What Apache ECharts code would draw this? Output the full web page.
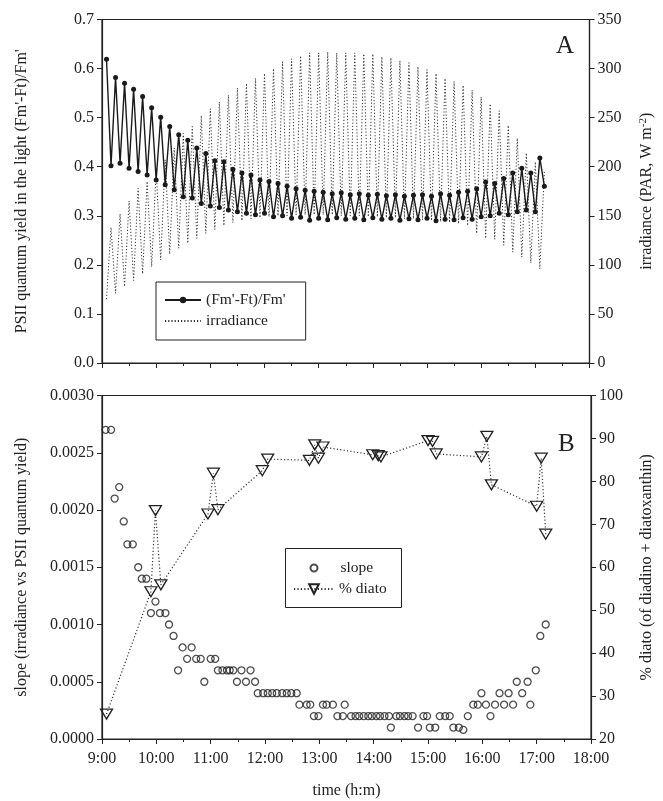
<!DOCTYPE html>
<html><head><meta charset="utf-8">
<script src="https://cdn.jsdelivr.net/npm/echarts@6/dist/echarts.min.js"></script>
<style>html,body{margin:0;padding:0;background:#fff}#c{width:663px;height:801px}</style>
</head><body><div id="c"></div>
<script>
// ---- Panel A: sampled every 5 min (alternating low / high light) ----
const sampleTimes = [
 "9:05","9:10","9:15","9:20","9:25","9:30","9:35","9:40","9:45","9:50","9:55","10:00",
 "10:05","10:10","10:15","10:20","10:25","10:30","10:35","10:40","10:45","10:50","10:55","11:00",
 "11:05","11:10","11:15","11:20","11:25","11:30","11:35","11:40","11:45","11:50","11:55","12:00",
 "12:05","12:10","12:15","12:20","12:25","12:30","12:35","12:40","12:45","12:50","12:55","13:00",
 "13:05","13:10","13:15","13:20","13:25","13:30","13:35","13:40","13:45","13:50","13:55","14:00",
 "14:05","14:10","14:15","14:20","14:25","14:30","14:35","14:40","14:45","14:50","14:55","15:00",
 "15:05","15:10","15:15","15:20","15:25","15:30","15:35","15:40","15:45","15:50","15:55","16:00",
 "16:05","16:10","16:15","16:20","16:25","16:30","16:35","16:40","16:45","16:50","16:55","17:00",
 "17:05","17:10"];
const irradiance = [
 65,138, 71,152, 78,165, 84,178, 91,185, 98,197, 105,207, 111,219, 117,234, 122,241,
 127,252, 132,259, 136,266, 140,273, 143,280, 145,285, 147,290, 148,295, 149,300, 150,307,
 150,310, 151,313, 151,316, 151,316, 151,317, 151,316, 150,316, 150,316, 150,315, 149,315,
 149,312, 148,311, 148,308, 147,306, 147,302, 146,299, 145,295, 144,290, 143,287, 142,283,
 140,278, 132,271, 127,264, 126,257, 120,242, 113,229, 108,214, 102,205, 96,195];
const quantumYield = [
 0.619,0.402, 0.582,0.407, 0.570,0.397, 0.558,0.390, 0.543,0.383, 0.520,0.373, 0.501,0.363, 0.482,0.353, 0.465,0.339, 0.454,0.336,
 0.438,0.325, 0.427,0.320, 0.412,0.317, 0.410,0.312, 0.395,0.308, 0.387,0.305, 0.383,0.302, 0.373,0.305, 0.370,0.298, 0.366,0.300,
 0.360,0.295, 0.355,0.297, 0.352,0.291, 0.350,0.295, 0.348,0.292, 0.345,0.296, 0.347,0.293, 0.343,0.295, 0.345,0.292, 0.342,0.296,
 0.344,0.293, 0.341,0.295, 0.343,0.291, 0.340,0.294, 0.342,0.292, 0.343,0.295, 0.340,0.290, 0.345,0.293, 0.342,0.292, 0.348,0.296,
 0.350,0.293, 0.355,0.298, 0.369,0.300, 0.366,0.305, 0.376,0.302, 0.387,0.308, 0.397,0.312, 0.387,0.308, 0.418,0.360];

// ---- Panel B ----
const slopeTimes = [
 "9:04","9:10","9:14","9:19","9:24","9:28","9:34","9:40","9:44","9:49","9:54","9:59",
 "10:04","10:10","10:14","10:19","10:24","10:29","10:34","10:39","10:44","10:49","10:53",
 "11:00","11:05","11:08","11:13","11:18","11:21","11:25","11:29","11:34","11:39","11:44","11:49",
 "11:52","11:58","12:03","12:08","12:13","12:19","12:24","12:29","12:35","12:38","12:46","12:50","12:54","12:59",
 "13:04","13:08","13:15","13:20","13:26","13:28","13:35","13:40","13:44","13:49","13:54","13:58",
 "14:03","14:07","14:12","14:17","14:19","14:25","14:29","14:34","14:38","14:43","14:49","14:55","14:59",
 "15:02","15:08","15:13","15:19","15:24","15:28","15:34","15:39","15:44","15:50","15:55","15:59",
 "16:04","16:09","16:14","16:19","16:24","16:29","16:34","16:38","16:44","16:50","16:53","16:59",
 "17:04","17:10"];
const slopeValues = [
 0.0027,0.0027,0.0021,0.0022,0.0019,0.0017,0.0017,0.0015,0.0014,0.0014,0.0011,0.0012,
 0.0011,0.0011,0.0010,0.0009,0.0006,0.0008,0.0007,0.0008,0.0007,0.0007,0.0005,
 0.0007,0.0007,0.0006,0.0006,0.0006,0.0006,0.0006,0.0005,0.0006,0.0005,0.0006,0.0005,
 0.0004,0.0004,0.0004,0.0004,0.0004,0.0004,0.0004,0.0004,0.0004,0.0003,0.0003,0.0003,0.0002,0.0002,
 0.0003,0.0003,0.0003,0.0002,0.0002,0.0003,0.0002,0.0002,0.0002,0.0002,0.0002,0.0002,
 0.0002,0.0002,0.0002,0.0002,0.0001,0.0002,0.0002,0.0002,0.0002,0.0002,0.0001,0.0002,0.0002,
 0.0001,0.0001,0.0002,0.0002,0.0002,0.0001,0.0001,0.00008,0.0002,0.0003,0.0003,0.0004,
 0.0003,0.0002,0.0003,0.0004,0.0003,0.0004,0.0003,0.0005,0.0004,0.0005,0.0003,0.0006,
 0.0009,0.0010];
const diatoTimes = ["9:05","9:54","9:59","10:05","10:57","11:03","11:08","11:57","12:03","12:49","12:55","12:59","13:04",
 "13:59","14:05","14:08","15:00","15:05","15:09","15:59","16:05","16:10","17:00","17:05","17:10"];
const diatoValues = [25.8,54.3,73.2,55.9,72.4,81.9,73.4,82.5,85.2,84.9,88.5,85.4,88.0,
 86.2,86.0,85.7,89.5,89.3,86.4,85.7,90.5,79.2,74.2,85.4,67.7];

const timeTicks = ["9:00","10:00","11:00","12:00","13:00","14:00","15:00","16:00","17:00","18:00"];

function toHours(s){const p=s.split(':');return (+p[0])+(+p[1])/60;}
const pair = (ts, vs) => ts.map((t,i)=>[toHours(t), vs[i]]);

const FONT = 'Liberation Serif';
const INK = '#222';
const lbl = (fmt) => ({color: INK, fontFamily: FONT, fontSize: 16, formatter: fmt});
const axisLine = {show:true, lineStyle:{color:INK, width:1.2}};
const nameStyle = {color: INK, fontFamily: FONT, fontSize: 16};
const legendText = {fontFamily:FONT, fontSize:15.5, color:INK};

function xAx(gi, showLabels){
  return {type:'value', gridIndex:gi, min:9, max:18, interval:1,
    axisLine, axisTick:{show:true, length:5, lineStyle:{color:INK}},
    minorTick:{show:true, splitNumber:2, length:3, lineStyle:{color:INK}},
    splitLine:{show:false}, minorSplitLine:{show:false},
    axisLabel: showLabels ? Object.assign(lbl(v => timeTicks[Math.round(v)-9]), {margin:12}) : {show:false},
    name: showLabels ? 'time (h:m)' : '', nameLocation:'middle', nameGap:44, nameTextStyle:nameStyle};
}
function yAx(gi, pos, min, max, interval, fmt, name, gap, rich){
  const ns = Object.assign({}, nameStyle); if (rich) ns.rich = rich;
  return {type:'value', gridIndex:gi, position:pos, min, max, interval,
    axisLine, axisTick:{show:true, length:5, lineStyle:{color:INK}},
    splitLine:{show:false}, axisLabel: Object.assign(lbl(fmt), {margin:8}),
    name, nameLocation:'middle', nameRotate:90, nameGap:gap, nameTextStyle:ns};
}

const chart = echarts.init(document.getElementById('c'), null, {renderer:'canvas'});
chart.setOption({
  animation:false,
  backgroundColor:'#fff',
  textStyle:{fontFamily:FONT, color:INK},
  grid:[
    {left:102, right:71, top:19.5, height:343.5, show:true, borderColor:INK, borderWidth:1.2, backgroundColor:'transparent'},
    {left:102, right:71, top:395.5, height:343.5, show:true, borderColor:INK, borderWidth:1.2, backgroundColor:'transparent'}
  ],
  xAxis:[xAx(0,false), xAx(1,true)],
  yAxis:[
    yAx(0,'left',0,0.7,0.1,v=>v.toFixed(1),"PSII quantum yield in the light (Fm'-Ft)/Fm'",72),
    yAx(0,'right',0,350,50,v=>String(Math.round(v)),'irradiance (PAR, W m{sup|-2})',48,
        {sup:{fontSize:11, fontFamily:FONT, color:INK, padding:[0,0,8,0]}}),
    yAx(1,'left',0,0.003,0.0005,v=>v.toFixed(4),'slope (irradiance vs PSII quantum yield)',72),
    yAx(1,'right',20,100,10,v=>String(Math.round(v)),'% diato (of diadino + diatoxanthin)',48)
  ],
  legend:[
    {orient:'vertical', left:156, top:282, padding:[10,20,11,8], itemGap:5, itemWidth:36, itemHeight:8,
     borderColor:INK, borderWidth:1, backgroundColor:'#fff', selectedMode:false,
     textStyle:legendText,
     data:["(Fm'-Ft)/Fm'", {name:'irradiance', itemStyle:{opacity:0}}]},
    {orient:'vertical', left:309.5, top:560, padding:0, itemWidth:7, itemHeight:7, selectedMode:false,
     formatter: n => '{s|}' + n,
     textStyle:Object.assign({rich:{s:{width:18}}}, legendText), data:['slope']},
    {orient:'vertical', left:293, top:581, padding:0, itemWidth:40, itemHeight:12, selectedMode:false,
     textStyle:legendText, data:['% diato']}
  ],
  graphic:[
    {type:'rect', left:285, top:548, z:-1, shape:{width:116, height:59},
     style:{fill:'#fff', stroke:INK, lineWidth:1}},
    {type:'text', left:556, top:34, style:{text:'A', font:'25px "Liberation Serif"', fill:INK}},
    {type:'text', left:558, top:432, style:{text:'B', font:'25px "Liberation Serif"', fill:INK}}
  ],
  series:[
    {name:'irradiance', type:'line', xAxisIndex:0, yAxisIndex:1, data:pair(sampleTimes, irradiance),
     symbol:'none', z:1, lineStyle:{color:'#333', width:1, type:[1.2,2]}, itemStyle:{color:'#333'}},
    {name:"(Fm'-Ft)/Fm'", type:'line', xAxisIndex:0, yAxisIndex:0, data:pair(sampleTimes, quantumYield),
     symbol:'circle', symbolSize:5, showAllSymbol:true, z:3,
     lineStyle:{color:'#1a1a1a', width:1.4}, itemStyle:{color:'#1a1a1a'}},
    {name:'slope', type:'scatter', xAxisIndex:1, yAxisIndex:2, data:pair(slopeTimes, slopeValues),
     symbol:'circle', symbolSize:7, itemStyle:{color:'rgba(255,255,255,0)', borderColor:INK, borderWidth:1.3}},
    {name:'% diato', type:'line', xAxisIndex:1, yAxisIndex:3, data:pair(diatoTimes, diatoValues),
     symbol:'triangle', symbolRotate:180, symbolSize:[12,10], showAllSymbol:true, z:4,
     lineStyle:{color:'#333', width:1.2, type:[1.2,2.2]},
     itemStyle:{color:'rgba(255,255,255,0)', borderColor:INK, borderWidth:1.3}}
  ]
});
</script>
</body></html>
